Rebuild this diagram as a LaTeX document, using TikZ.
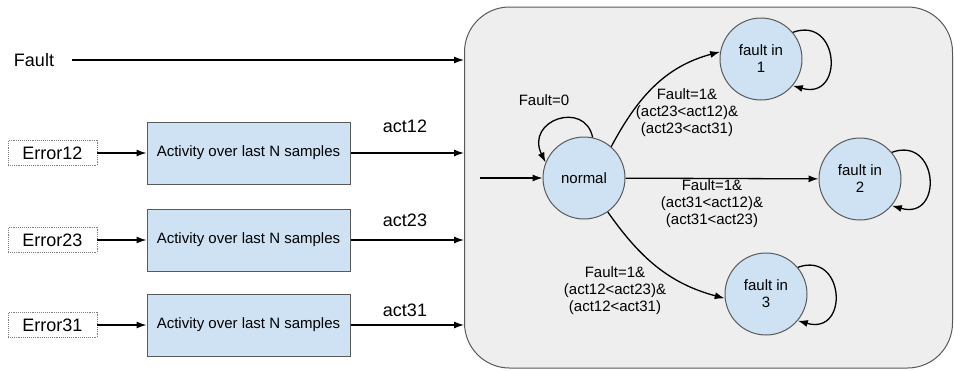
\documentclass[tikz,border=0pt]{standalone}
\usepackage{fontspec}
\setmainfont{Liberation Sans}
\usetikzlibrary{arrows.meta}
\definecolor{boxblue}{HTML}{CFE2F3}
\definecolor{fsmgray}{HTML}{EEEEEE}
\definecolor{edgegray}{HTML}{595959}
\tikzset{
	arr/.style={-{Latex[length=10pt,width=7pt]}, line width=1.3pt},
	bigtext/.style={font=\fontsize{18}{20}\selectfont},
	smalltext/.style={font=\fontsize{15}{17}\selectfont, align=center},
	errbox/.style={draw=gray, densely dotted, line width=0.9pt, minimum width=89pt, minimum height=25pt, inner sep=0pt, bigtext},
	actbox/.style={draw=edgegray, fill=boxblue, line width=1pt, minimum width=203pt, minimum height=62pt, smalltext},
	fsmstate/.style={draw=edgegray, fill=boxblue, circle, line width=1pt, minimum size=82pt, inner sep=0pt, smalltext},
}
\begin{document}
\begin{tikzpicture}[x=1pt, y=-1pt]
	\useasboundingbox (0,0) rectangle (954,370);
	% background of the state machine
	\node[draw=edgegray, fill=fsmgray, line width=1pt, rounded corners=45pt, minimum width=488pt, minimum height=361pt, inner sep=0pt] (fsm) at (708.5,187.5) {};
	% fault input
	\node[bigtext] (Fault) at (34,60) {Fault};
	\draw[arr, shorten <=14pt] (Fault) -- (Fault -| fsm.west);
	% error inputs and activity filters
	\def\rows {12/153/126, 23/240/220, 31/325/310};
	\foreach \i\y\ly in \rows{
		\node[errbox] (err\i) at (52.5,\y) {Error\i};
		\node[actbox] (act\i) at (248.5,\y) {Activity over last N samples};
		\draw[arr] (err\i) -- (act\i);
		\draw[arr] (act\i) -- (act\i -| fsm.west);
		\node[bigtext] (lab\i) at (405,\ly) {act\i};
	}
	% states of the machine
	\def\states {normal/584/178/normal, f1/761/59/fault in\\1, f2/860/179/fault in\\2, f3/766/294/fault in\\3};
	\foreach \name\x\y\txt in \states{
		\node[fsmstate] (\name) at (\x,\y) {\txt};
	}
	\coordinate (start) at (480,178);
	\draw[arr] (start) -- (normal);
	% self loops
	\draw[arr] (normal.78) .. controls (585,100) and (525,120) .. (normal.158);
	\node[smalltext] (l0) at (544,100) {Fault=0};
	\foreach \name in {f1,f2,f3}{
		\draw[arr] (\name.40) .. controls +(47,-17) and +(52,15) .. (\name.-40);
	}
	% transitions out of normal
	\draw[arr] (normal.49) to[out=62, in=195] (f1.170);
	\draw[arr] (normal) -- (f2);
	\draw[arr] (normal.-55) to[out=-55, in=165] (f3.186);
	\node[smalltext] (l1) at (687,113) {Fault=1\&\\(act23<act12)\&\\(act23<act31)};
	\node[smalltext] (l2) at (712,204) {Fault=1\&\\(act31<act12)\&\\(act31<act23)};
	\node[smalltext] (l3) at (615,291) {Fault=1\&\\(act12<act23)\&\\(act12<act31)};
\end{tikzpicture}
\end{document}
